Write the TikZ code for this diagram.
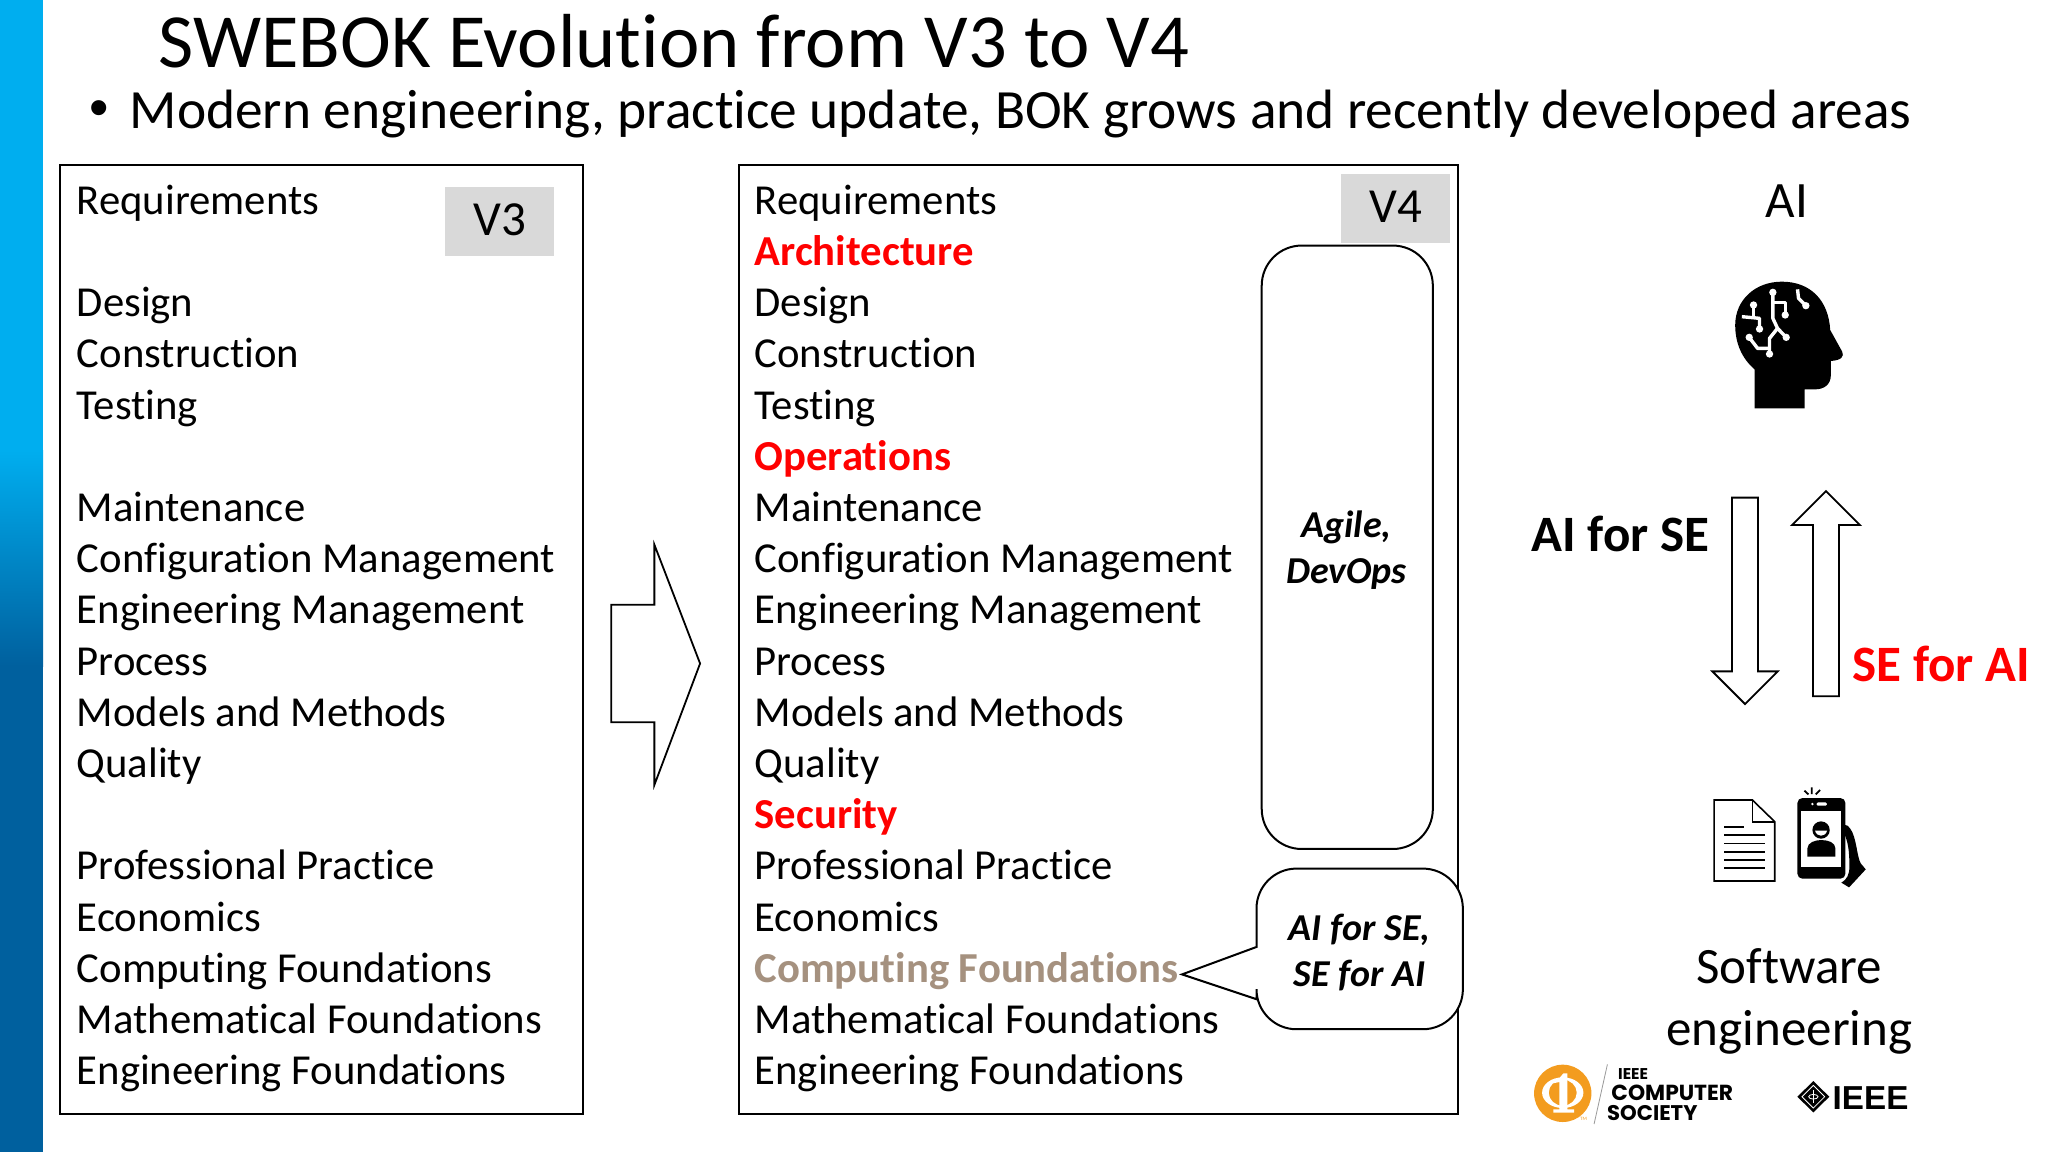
\documentclass[tikz,border=0pt]{standalone}
\usepackage{fontspec}
\setmainfont[Ligatures=CommonOff]{Carlito}
\newfontfamily\logofont{Poppins}
\newfontfamily\ieeefont{Liberation Sans}
\definecolor{barlight}{HTML}{00AEEF}
\definecolor{bardark}{HTML}{00609E}
\definecolor{labelgrey}{HTML}{D9D9D9}
\definecolor{cfbrown}{HTML}{A5917F}
\definecolor{csorange}{HTML}{F39C1F}
\tikzset{
  listitem/.style={anchor=base west,inner sep=0pt,font=\fontsize{21.35}{25}\selectfont},
  newitem/.style={listitem,text=red,font=\fontsize{21.35}{25}\selectfont\bfseries},
  frameBox/.style={draw=black,line width=1pt},
  verlabel/.style={fill=labelgrey,inner sep=0pt,font=\fontsize{24.5}{28}\selectfont},
  roundbox/.style={draw=black,fill=white,line width=1pt,rounded corners=20},
  noteText/.style={align=center,inner sep=0pt,font=\fontsize{19}{23}\selectfont\bfseries\itshape},
  blockarrow/.style={draw=black,fill=white,line width=0.9pt,line join=miter},
  sideText/.style={align=center,inner sep=0pt,font=\fontsize{25.5}{31}\selectfont},
  sideBold/.style={anchor=base west,inner sep=0pt,font=\fontsize{25.5}{31}\selectfont\bfseries},
  wire/.style={draw=white,line width=1.7pt,line join=round},
  pad/.style={fill=white,radius=11},
  iconscale/.style={x=0.16667pt,y=-0.16667pt},
}
\begin{document}
\begin{tikzpicture}[x=0.65306pt,y=-0.65306pt]
\useasboundingbox (0,0) rectangle (1568,882);
\fill[white] (0,0) rectangle (1568,882);
% side bar
\fill[barlight] (0,0) rectangle (33,345);
\shade[top color=barlight,bottom color=bardark] (0,345) rectangle (33,510);
\fill[bardark] (0,510) rectangle (33,882);
% title
\node[anchor=base west,inner sep=0pt,font=\fontsize{38.3}{44}\selectfont] (title) at (121,52) {SWEBOK Evolution from V3 to V4};
\node[anchor=base,inner sep=0pt,font=\ieeefont\fontsize{27.7}{30}\selectfont] (bullet) at (76,97) {•};
\node[anchor=base west,inner sep=0pt,font=\fontsize{27.7}{32}\selectfont] (subtitle) at (99,98) {Modern engineering, practice update, BOK grows and recently developed areas};
% boxes
\node[frameBox,minimum width=400*0.65306pt,minimum height=727*0.65306pt,inner sep=0pt] (v3box) at (246,489.5) {};
\node[frameBox,minimum width=550*0.65306pt,minimum height=727*0.65306pt,inner sep=0pt] (v4box) at (841,489.5) {};
\node[verlabel,minimum width=83*0.65306pt,minimum height=53*0.65306pt] (v3tag) at (382.5,169.5) {\raisebox{1.3pt}{V3}};
\node[verlabel,minimum width=83*0.65306pt,minimum height=53*0.65306pt] (v4tag) at (1068.5,159.5) {\raisebox{1.8pt}{V4}};
% V3 list
\foreach \r/\t in {0/Requirements,2/Design,3/Construction,4/Testing,6/Maintenance,7/Configuration Management,8/Engineering Management,9/Process,10/Models and Methods,11/Quality,13/Professional Practice,14/Economics,15/Computing Foundations,16/Mathematical Foundations,17/Engineering Foundations}
  \node[listitem] (va\r) at (58.5,{164+39.2*\r}) {\t};
% V4 list
\foreach \r/\t in {0/Requirements,2/Design,3/Construction,4/Testing,6/Maintenance,7/Configuration Management,8/Engineering Management,9/Process,10/Models and Methods,11/Quality,13/Professional Practice,14/Economics,16/Mathematical Foundations,17/Engineering Foundations}
  \node[listitem] (vb\r) at (577.5,{164+39.2*\r}) {\t};
\foreach \r/\t in {1/Architecture,5/Operations,12/Security}
  \node[newitem] (vb\r) at (577.5,{164+39.2*\r}) {\t};
\node[newitem,text=cfbrown] (vb15) at (577.5,{164+39.2*15}) {Computing Foundations};
% big arrow
\draw[blockarrow] (468,463) -- (501,463) -- (501,417) -- (536,508) -- (501,601) -- (501,553) -- (468,553) -- cycle;
% Agile box
\node[roundbox,minimum width=131*0.65306pt,minimum height=462*0.65306pt,inner sep=0pt] (agilebox) at (1031.5,419) {};
\node[noteText] (agile) at (1031,421) {Agile,\\DevOps};
% callout
\draw[draw=black,fill=white,line width=1pt,line join=miter] (905,746) -- (962,725) [rounded corners=20] -- (962,665) -- (1120,665) -- (1120,788) -- (962,788) [sharp corners] -- (962,765) -- cycle;
\node[noteText] (aise) at (1041,729) {AI for SE,\\SE for AI};
% right column
\node[sideText] (ai) at (1368,154) {AI};
\begin{scope}[shift={(1301.7,191.4)},iconscale]
  \fill[black] (163,475) -- (163,358) .. controls (125,325) and (105,280) .. (105,225) .. controls (105,150) and (165,95) .. (245,95) .. controls (330,95) and (385,150) .. (390,240) -- (426,305) .. controls (432,320) and (425,330) .. (392,333) -- (392,375) .. controls (392,405) and (370,418) .. (345,418) -- (313,418) -- (313,475) -- cycle;
  \draw[wire] (218,127) -- (218,205) -- (232,235) -- (258,262);
  \draw[wire] (232,235) -- (208,265) -- (208,312);
  \draw[wire] (208,295) -- (172,295) -- (147,262);
  \draw[wire] (218,158) -- (255,158) -- (255,195);
  \draw[wire] (160,165) -- (160,200);
  \draw[wire] (125,200) -- (178,205) -- (178,237);
  \draw[wire] (292,118) -- (295,145) -- (317,167);
  \foreach \p in {(218,127),(258,262),(208,312),(147,262),(255,195),(160,165),(178,237),(317,167)}
    \fill[pad] \p circle[];
\end{scope}
\draw[blockarrow] (1326,381) -- (1346,381) -- (1346,514) -- (1361,514) -- (1336,539) -- (1311,514) -- (1326,514) -- cycle;
\draw[blockarrow] (1388,533) -- (1408,533) -- (1408,402) -- (1424,402) -- (1398,376) -- (1372,402) -- (1388,402) -- cycle;
\node[sideBold] (aiforse) at (1172.5,422) {AI for SE};
\node[sideBold,text=red] (seforai) at (1418,522) {SE for AI};
\begin{scope}[shift={(1301.6,597.2)},iconscale]
  % document
  \draw[black,fill=white,line width=0.8pt] (42,60) -- (157,60) -- (224,125) -- (224,303) -- (42,303) -- cycle;
  \draw[black,line width=0.8pt] (157,60) -- (157,125) -- (224,125);
  \draw[black,line width=0.8pt] (72,141) -- (131,141);
  \foreach \yy in {165,190,215,240,264}
    \draw[black,line width=0.8pt] (72,\yy) -- (196,\yy);
  % phone
  \draw[black,line width=0.9pt] (335,22) -- (335,42) (313,32) -- (325,43) (360,30) -- (347,43);
  \fill[black,rounded corners=2.5pt] (292,54) rectangle (436,296);
  \fill[white] (304,92) rectangle (424,260);
  \fill[white] (337,72) circle[radius=4];
  \fill[white,rounded corners=0.6pt] (350,67) rectangle (380,77);
  \fill[black] (363,150) circle[radius=26];
  \fill[white] (345,152) .. controls (350,172) and (376,172) .. (381,152) -- cycle;
  \fill[black] (322,230) -- (322,205) .. controls (322,188) and (345,180) .. (363,180) .. controls (385,180) and (406,188) .. (406,205) -- (406,230) -- cycle;
  \fill[black] (425,147) .. controls (427,132) and (440,130) .. (450,145) .. controls (470,172) and (470,230) .. (482,250) -- (497,268) -- (447,322) -- (424,308) .. controls (440,298) and (448,285) .. (448,260) .. controls (448,220) and (446,180) .. (425,147) -- cycle;
\end{scope}
\node[sideText] (sweng) at (1370,767) {Software\\engineering};
% computer society logo
\begin{scope}[shift={(1163.8,803.9)},iconscale]
  \fill[csorange] (128,130) circle[radius=86];
  \fill[white,even odd rule] (128,128) ellipse[x radius=62,y radius=46] (128,128) ellipse[x radius=42,y radius=39];
  \fill[white] (118,84) -- (98,92) -- (98,100) -- (118,96) -- (118,178) -- (100,178) -- (100,188) -- (162,188) -- (162,178) -- (142,178) -- (142,70) -- (130,70) -- cycle;
  \draw[black!40,line width=0.4pt] (262,43) -- (222,222);
  \node[inner sep=0pt,text=csorange,font=\fontsize{2.5}{3}\selectfont] (tm) at (190,208) {TM};
  \node[anchor=west,inner sep=0pt,font=\logofont\bfseries\fontsize{7.8}{9}\selectfont] (csieee) at (293,71) {IEEE};
  \node[anchor=west,inner sep=0pt,font=\logofont\bfseries\fontsize{10.9}{13}\selectfont] (cscomp) at (273,127) {COMPUTER};
  \node[anchor=west,inner sep=0pt,font=\logofont\bfseries\fontsize{10.6}{13}\selectfont] (cssoc) at (260,190) {SOCIETY};
\end{scope}
% ieee logo
\begin{scope}[shift={(1362.8,811.6)},iconscale]
  \fill[black] (100,63) -- (148,110) -- (100,157) -- (52,110) -- cycle;
  \draw[white,line width=0.4pt] (100,76) -- (134,110) -- (100,144) -- (66,110) -- cycle;
  \draw[white,line width=0.4pt] (100,90) -- (100,130);
  \draw[white,line width=0.4pt] (100,110) ellipse[x radius=14,y radius=7];
  \node[anchor=west,inner sep=0pt,font=\ieeefont\bfseries\fontsize{16.6}{20}\selectfont] (ieee) at (157,113) {IEEE};
\end{scope}
\end{tikzpicture}
\end{document}
